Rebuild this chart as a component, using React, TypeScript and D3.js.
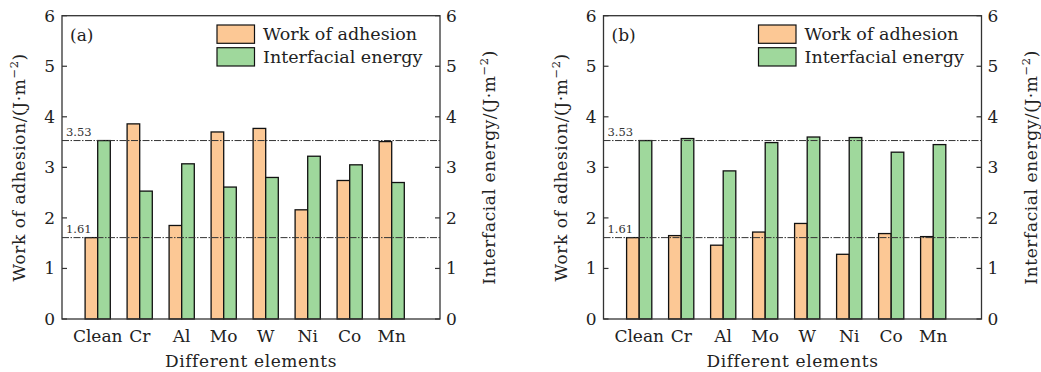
import { useEffect, useRef } from 'react';
import * as d3 from 'd3';

const elements = ['Clean', 'Cr', 'Al', 'Mo', 'W', 'Ni', 'Co', 'Mn'];
const adhesionA = [1.61, 3.86, 1.85, 3.70, 3.77, 2.16, 2.74, 3.51];
const energyA = [3.53, 2.53, 3.07, 2.61, 2.80, 3.22, 3.05, 2.70];
const adhesionB = [1.61, 1.65, 1.46, 1.72, 1.89, 1.28, 1.69, 1.63];
const energyB = [3.53, 3.57, 2.93, 3.49, 3.60, 3.59, 3.30, 3.45];
const refLines = [3.53, 1.61];
const yTicks = [0, 1, 2, 3, 4, 5, 6];
const legendLabels = ['Work of adhesion', 'Interfacial energy'];

const ORANGE = '#fcc895';
const GREEN = '#9fd89c';
const FONT = '"DejaVu Serif", serif';

const App = () => {
    const ref = useRef(null);

    useEffect(() => {
        const svg = d3.select(ref.current);
        svg.selectAll('*').remove();

        const drawPanel = (offsetX, tag, adhesion, energy) => {
            const left = offsetX + 62;
            const right = offsetX + 440;
            const top = 15.7;
            const bottom = 319;
            const g = svg.append('g');

            const x = d3.scaleLinear().domain([0, 9]).range([left, right]);
            const y = d3.scaleLinear().domain([0, 6]).range([bottom, top]);
            const bw = x(0.3) - x(0);

            // bars
            const groups = elements.map((e, i) => ({ e, i, a: adhesion[i], s: energy[i] }));
            g.selectAll('rect.adh')
                .data(groups)
                .enter().append('rect')
                .attr('x', d => x(d.i + 0.85) - bw)
                .attr('y', d => y(d.a))
                .attr('width', bw)
                .attr('height', d => y(0) - y(d.a))
                .attr('fill', ORANGE)
                .attr('stroke', '#111')
                .attr('stroke-width', 1.3);
            g.selectAll('rect.ene')
                .data(groups)
                .enter().append('rect')
                .attr('x', d => x(d.i + 0.85))
                .attr('y', d => y(d.s))
                .attr('width', bw)
                .attr('height', d => y(0) - y(d.s))
                .attr('fill', GREEN)
                .attr('stroke', '#111')
                .attr('stroke-width', 1.3);

            // reference lines
            refLines.forEach(v => {
                g.append('line')
                    .attr('x1', left).attr('x2', right)
                    .attr('y1', y(v)).attr('y2', y(v))
                    .attr('stroke', '#333')
                    .attr('stroke-width', 1)
                    .attr('stroke-dasharray', '7,1.5,1.5,1.5');
                g.append('text')
                    .attr('x', left + 4)
                    .attr('y', y(v) - 5)
                    .attr('font-family', FONT)
                    .attr('font-size', 11.5)
                    .attr('fill', '#333')
                    .text(v.toFixed(2));
            });

            // frame
            g.append('rect')
                .attr('x', left).attr('y', top)
                .attr('width', right - left).attr('height', bottom - top)
                .attr('fill', 'none')
                .attr('stroke', '#333')
                .attr('stroke-width', 1.3);

            // ticks, both sides inward
            yTicks.forEach(t => {
                g.append('line').attr('x1', left).attr('x2', left + 5)
                    .attr('y1', y(t)).attr('y2', y(t)).attr('stroke', '#333').attr('stroke-width', 1.2);
                g.append('line').attr('x1', right - 5).attr('x2', right)
                    .attr('y1', y(t)).attr('y2', y(t)).attr('stroke', '#333').attr('stroke-width', 1.2);
                g.append('text').attr('x', left - 7).attr('y', y(t) + 6)
                    .attr('text-anchor', 'end').attr('font-family', FONT).attr('font-size', 17)
                    .attr('fill', '#222').text(t);
                g.append('text').attr('x', right + 6).attr('y', y(t) + 6)
                    .attr('font-family', FONT).attr('font-size', 17)
                    .attr('fill', '#222').text(t);
            });

            // x labels
            elements.forEach((e, i) => {
                g.append('text').attr('x', x(i + 0.85)).attr('y', 342)
                    .attr('text-anchor', 'middle').attr('font-family', FONT).attr('font-size', 17)
                    .attr('fill', '#222').text(e);
            });
            g.append('text').attr('x', (left + right) / 2).attr('y', 367)
                .attr('text-anchor', 'middle').attr('font-family', FONT).attr('font-size', 17)
                .attr('letter-spacing', 0.6)
                .attr('fill', '#222').text('Different elements');

            // y labels
            const yl = g.append('text')
                .attr('transform', `translate(${offsetX + 25},${(top + bottom) / 2}) rotate(-90)`)
                .attr('text-anchor', 'middle').attr('font-family', FONT).attr('font-size', 17)
                .attr('letter-spacing', 0.6)
                .attr('fill', '#222');
            yl.append('tspan').text('Work of adhesion/(J·m');
            yl.append('tspan').attr('dy', -7).attr('font-size', 11.5).text('−2');
            yl.append('tspan').attr('dy', 7).text(')');
            const yr = g.append('text')
                .attr('transform', `translate(${offsetX + 495},${(top + bottom) / 2}) rotate(-90)`)
                .attr('text-anchor', 'middle').attr('font-family', FONT).attr('font-size', 17)
                .attr('letter-spacing', 0.6)
                .attr('fill', '#222');
            yr.append('tspan').text('Interfacial energy/(J·m');
            yr.append('tspan').attr('dy', -7).attr('font-size', 11.5).text('−2');
            yr.append('tspan').attr('dy', 7).text(')');

            // panel tag
            g.append('text').attr('x', left + 8).attr('y', 41)
                .attr('font-family', FONT).attr('font-size', 17).attr('fill', '#222').text(tag);

            // legend
            const lx = offsetX + 217;
            [ORANGE, GREEN].forEach((c, i) => {
                g.append('rect').attr('x', lx).attr('y', 25 + i * 22.7)
                    .attr('width', 37.5).attr('height', 18.3)
                    .attr('fill', c).attr('stroke', '#111').attr('stroke-width', 1.2);
                g.append('text').attr('x', lx + 46).attr('y', 40 + i * 22.7)
                    .attr('font-family', FONT).attr('font-size', 17.5).attr('fill', '#222')
                    .text(legendLabels[i]);
            });
        };

        drawPanel(0, '(a)', adhesionA, energyA);
        drawPanel(541.5, '(b)', adhesionB, energyB);
    }, []);

    return (
        <svg ref={ref} width={1041} height={372}
            style={{ position: 'absolute', left: 0, top: 0, background: '#fff' }} />
    );
};

export default App;
